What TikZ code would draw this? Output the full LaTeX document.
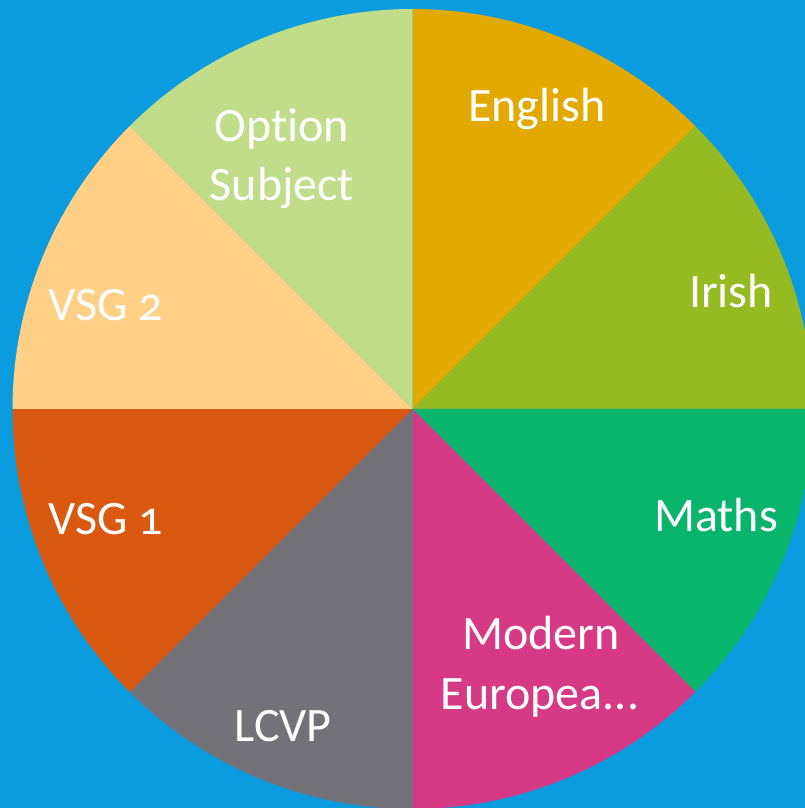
\documentclass[tikz,border=0pt]{standalone}
\usepackage{fontspec}
\setmainfont{Carlito}[Numbers=OldStyle,Ligatures=NoCommon]
\definecolor{bgblue}{HTML}{0B9BDF}
\definecolor{cEnglish}{HTML}{E2AA00}
\definecolor{cIrish}{HTML}{95BA22}
\definecolor{cMaths}{HTML}{08B56A}
\definecolor{cModern}{HTML}{D63A87}
\definecolor{cLCVP}{HTML}{737278}
\definecolor{cVSGa}{HTML}{D95911}
\definecolor{cVSGb}{HTML}{FFD085}
\definecolor{cOption}{HTML}{C0DD89}
\begin{document}
\begin{tikzpicture}[x=1pt,y=1pt,
  lbl/.style={text=white,font=\fontsize{48}{57}\selectfont,anchor=base,inner sep=0pt}]
\fill[bgblue] (0,0) rectangle (805,808);
\clip (0,0) rectangle (805,808);
\coordinate (c) at (412.5,399);
\foreach \s/\e/\col in {90/45/cEnglish,45/0/cIrish,0/-45/cMaths,-45/-90/cModern,-90/-135/cLCVP,-135/-180/cVSGa,180/135/cVSGb,135/90/cOption}{
  \fill[\col] (c) -- ++(\s:400) arc[start angle=\s,end angle=\e,radius=400] -- cycle;
}
\node[lbl] (english) at (537,686) {English};
\node[lbl] (irish) at (731,500) {Irish};
\node[lbl] (maths) at (716,276) {Maths};
\node[lbl] (modern) at (541,158) {Modern};
\node[lbl] (europ) at (540,98) {Europea...};
\node[lbl] (lcvp) at (283,66) {LCVP};
\node[lbl] (vsg1) at (106,273) {VSG 1};
\node[lbl] (vsg2) at (106,487) {VSG 2};
\node[lbl] (option) at (282,666) {Option};
\node[lbl] (subject) at (282,607) {Subject};
\end{tikzpicture}
\end{document}
